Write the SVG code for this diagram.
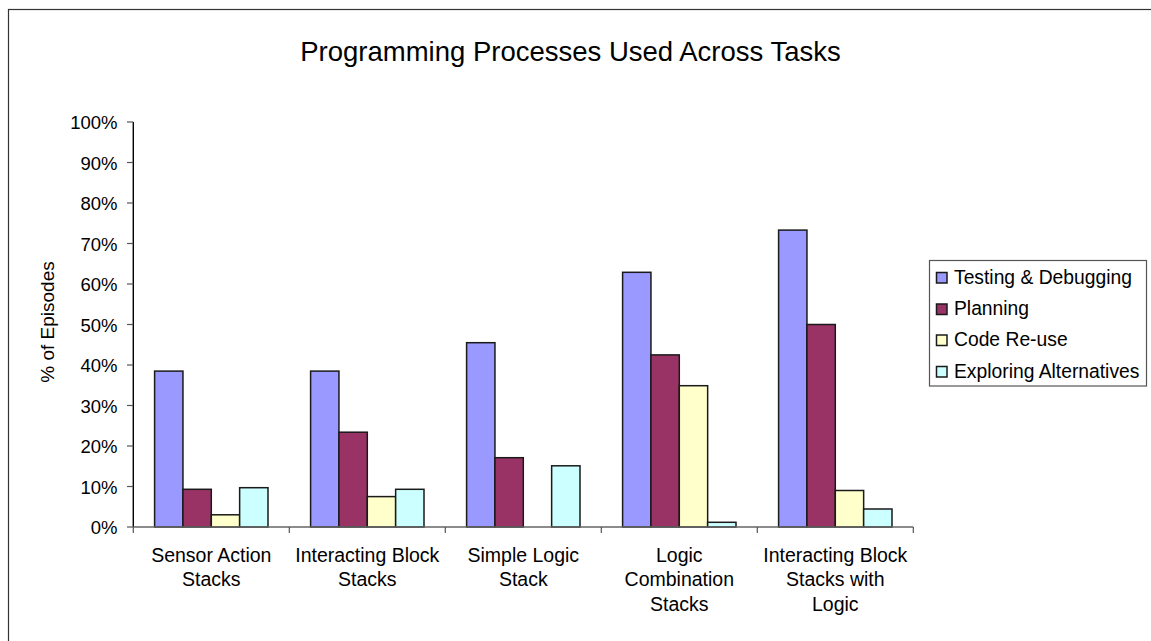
<svg xmlns="http://www.w3.org/2000/svg" width="1151" height="641" viewBox="0 0 1151 641">
  <style>
    text { font-family: "Liberation Sans", Arial, sans-serif; fill: #000; }
    .title { font-size: 27.5px; text-anchor: middle; }
    .ylab { font-size: 18.5px; text-anchor: end; }
    .xlab { font-size: 19.5px; text-anchor: middle; }
    .leg { font-size: 19.3px; }
    .axis-title { font-size: 19px; text-anchor: middle; }
    .bar { stroke: #1a1a1a; stroke-width: 1.5; }
    .s1 { fill: #9999FF; }
    .s2 { fill: #993366; }
    .s3 { fill: #FFFFCC; }
    .s4 { fill: #CCFFFF; }
    .tick { stroke: #555; stroke-width: 1.2; }
  </style>

  <!-- chart frame -->
  <rect x="8.5" y="9.5" width="1150" height="640" fill="#fff" stroke="#333" stroke-width="1.2"/>

  <text class="title" x="570.5" y="61">Programming Processes Used Across Tasks</text>

  <!-- value axis -->
  <g id="value-axis">
    <line x1="133.3" y1="122" x2="133.3" y2="527" stroke="#000" stroke-width="1.4"/>
    <g class="tick">
      <line x1="127" y1="527" x2="133.3" y2="527"/>
      <line x1="127" y1="486.5" x2="133.3" y2="486.5"/>
      <line x1="127" y1="446" x2="133.3" y2="446"/>
      <line x1="127" y1="405.5" x2="133.3" y2="405.5"/>
      <line x1="127" y1="365" x2="133.3" y2="365"/>
      <line x1="127" y1="324.5" x2="133.3" y2="324.5"/>
      <line x1="127" y1="284" x2="133.3" y2="284"/>
      <line x1="127" y1="243.5" x2="133.3" y2="243.5"/>
      <line x1="127" y1="203" x2="133.3" y2="203"/>
      <line x1="127" y1="162.5" x2="133.3" y2="162.5"/>
      <line x1="127" y1="122" x2="133.3" y2="122"/>
    </g>
    <text class="ylab" x="117.5" y="534">0%</text>
    <text class="ylab" x="117.5" y="493.5">10%</text>
    <text class="ylab" x="117.5" y="453">20%</text>
    <text class="ylab" x="117.5" y="412.5">30%</text>
    <text class="ylab" x="117.5" y="372">40%</text>
    <text class="ylab" x="117.5" y="331.5">50%</text>
    <text class="ylab" x="117.5" y="291">60%</text>
    <text class="ylab" x="117.5" y="250.5">70%</text>
    <text class="ylab" x="117.5" y="210">80%</text>
    <text class="ylab" x="117.5" y="169.5">90%</text>
    <text class="ylab" x="117.5" y="129">100%</text>
    <text class="axis-title" transform="translate(53.5 322) rotate(-90)">% of Episodes</text>
  </g>

  <!-- bars, one group per task -->
  <g id="sensor-action-stacks">
    <rect class="bar s1" x="154.6" y="371.1" width="28.35" height="155.9"/>
    <rect class="bar s2" x="182.95" y="489.3" width="28.35" height="37.7"/>
    <rect class="bar s3" x="211.3" y="514.8" width="28.35" height="12.2"/>
    <rect class="bar s4" x="239.65" y="487.7" width="28.35" height="39.3"/>
  </g>
  <g id="interacting-block-stacks">
    <rect class="bar s1" x="310.6" y="371.1" width="28.35" height="155.9"/>
    <rect class="bar s2" x="338.95" y="432.2" width="28.35" height="94.8"/>
    <rect class="bar s3" x="367.3" y="496.6" width="28.35" height="30.4"/>
    <rect class="bar s4" x="395.65" y="489.3" width="28.35" height="37.7"/>
  </g>
  <g id="simple-logic-stack">
    <rect class="bar s1" x="466.6" y="342.7" width="28.35" height="184.3"/>
    <rect class="bar s2" x="494.95" y="457.7" width="28.35" height="69.3"/>
    <rect class="bar s4" x="551.65" y="465.8" width="28.35" height="61.2"/>
  </g>
  <g id="logic-combination-stacks">
    <rect class="bar s1" x="622.6" y="272.3" width="28.35" height="254.7"/>
    <rect class="bar s2" x="650.95" y="354.9" width="28.35" height="172.1"/>
    <rect class="bar s3" x="679.3" y="385.7" width="28.35" height="141.3"/>
    <rect class="bar s4" x="707.65" y="522.3" width="28.35" height="4.7"/>
  </g>
  <g id="interacting-block-stacks-with-logic">
    <rect class="bar s1" x="778.6" y="230.1" width="28.35" height="296.9"/>
    <rect class="bar s2" x="806.95" y="324.5" width="28.35" height="202.5"/>
    <rect class="bar s3" x="835.3" y="490.5" width="28.35" height="36.5"/>
    <rect class="bar s4" x="863.65" y="509" width="28.35" height="18"/>
  </g>

  <!-- category axis -->
  <g id="category-axis">
    <line x1="133.3" y1="527" x2="913.3" y2="527" stroke="#666" stroke-width="1.4"/>
    <g class="tick">
      <line x1="133.3" y1="527" x2="133.3" y2="533"/>
      <line x1="289.3" y1="527" x2="289.3" y2="533"/>
      <line x1="445.3" y1="527" x2="445.3" y2="533"/>
      <line x1="601.3" y1="527" x2="601.3" y2="533"/>
      <line x1="757.3" y1="527" x2="757.3" y2="533"/>
      <line x1="913.3" y1="527" x2="913.3" y2="533"/>
    </g>
    <text class="xlab" x="211.3" y="561.7">Sensor Action</text>
    <text class="xlab" x="211.3" y="586.2">Stacks</text>
    <text class="xlab" x="367.3" y="561.7">Interacting Block</text>
    <text class="xlab" x="367.3" y="586.2">Stacks</text>
    <text class="xlab" x="523.3" y="561.7">Simple Logic</text>
    <text class="xlab" x="523.3" y="586.2">Stack</text>
    <text class="xlab" x="679.3" y="561.7">Logic</text>
    <text class="xlab" x="679.3" y="586.2">Combination</text>
    <text class="xlab" x="679.3" y="610.7">Stacks</text>
    <text class="xlab" x="835.3" y="561.7">Interacting Block</text>
    <text class="xlab" x="835.3" y="586.2">Stacks with</text>
    <text class="xlab" x="835.3" y="610.7">Logic</text>
  </g>

  <!-- legend -->
  <g id="legend">
    <rect x="929.5" y="260.5" width="217" height="125.5" fill="#fff" stroke="#555" stroke-width="1.2"/>
    <rect class="bar s1" x="936.5" y="272.5" width="10.5" height="10.5" stroke-width="1.2"/>
    <text class="leg" x="954" y="283.5">Testing &amp; Debugging</text>
    <rect class="bar s2" x="936.5" y="304" width="10.5" height="10.5" stroke-width="1.2"/>
    <text class="leg" x="954" y="315">Planning</text>
    <rect class="bar s3" x="936.5" y="335" width="10.5" height="10.5" stroke-width="1.2"/>
    <text class="leg" x="954" y="346">Code Re-use</text>
    <rect class="bar s4" x="936.5" y="366.5" width="10.5" height="10.5" stroke-width="1.2"/>
    <text class="leg" x="954" y="377.5">Exploring Alternatives</text>
  </g>
</svg>
